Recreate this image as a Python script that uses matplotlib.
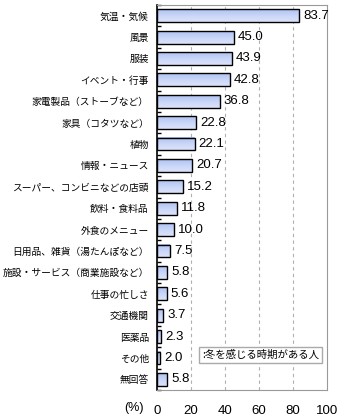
import matplotlib
matplotlib.use("Agg")
import matplotlib.pyplot as plt
import numpy as np
from matplotlib.colors import LinearSegmentedColormap
from matplotlib.patches import Rectangle

categories = [
    "気温・気候", "風景", "服装", "イベント・行事", "家電製品（ストーブなど）",
    "家具（コタツなど）", "植物", "情報・ニュース", "スーパー、コンビニなどの店頭",
    "飲料・食料品", "外食のメニュー", "日用品、雑貨（湯たんぽなど）",
    "施設・サービス（商業施設など）", "仕事の忙しさ", "交通機関", "医薬品",
    "その他", "無回答",
]
values = [83.7, 45.0, 43.9, 42.8, 36.8, 22.8, 22.1, 20.7, 15.2, 11.8, 10.0,
          7.5, 5.8, 5.6, 3.7, 2.3, 2.0, 5.8]
x_ticks = [0, 20, 40, 60, 80, 100]
legend_label = ":冬を感じる時期がある人"

plt.rcParams['font.family'] = ['Noto Sans CJK JP', 'DejaVu Sans']

fig = plt.figure(figsize=(3.4, 4.2), dpi=100)
ax = fig.add_axes([157/340, 1-390/420, 170/340, 385/420])

y = np.arange(len(categories))
rects = ax.barh(y, values, height=0.6, facecolor='none', edgecolor='black',
                linewidth=1.0, zorder=3)

cmap = LinearSegmentedColormap.from_list('g', ['#dbe3fb', '#c9d6f8', '#afc2f2'])
grad = np.linspace(0, 1, 32).reshape(-1, 1)
for r in rects:
    x0, y0, w, h = r.get_x(), r.get_y(), r.get_width(), r.get_height()
    ax.imshow(grad, cmap=cmap, aspect='auto', extent=[x0, x0 + w, y0, y0 + h],
              origin='upper', zorder=2, interpolation='bilinear')

for yi, v in zip(y, values):
    ax.annotate(f"{v:.1f}", xy=(v, yi), xytext=(3, 0), textcoords='offset points',
                ha='left', va='center', fontsize=9.5, family='Liberation Sans',
                color='black', zorder=4)

ax.set_xlim(0, 100)
ax.set_ylim(len(categories) - 0.5, -0.5)
ax.set_yticks(y)
ax.set_yticklabels(categories, fontsize=7)
ax.tick_params(axis='y', which='major', length=0, pad=5.8)
ax.set_yticks(np.arange(-0.5, len(categories), 1), minor=True)
ax.tick_params(axis='y', which='minor', length=3, direction='in', color='black', width=1)

ax.set_xticks(x_ticks)
ax.set_xticklabels([str(t) for t in x_ticks], fontsize=9.5, family='Liberation Sans')
ax.tick_params(axis='x', length=0, pad=11)

for xv in x_ticks[1:-1]:
    ax.axvline(xv, color='#b0b0b0', linestyle=(0, (3, 3)), linewidth=0.8, zorder=1)

for s in ['top', 'right', 'bottom']:
    ax.spines[s].set_color('#999999')
ax.spines['left'].set_color('black')
ax.spines['left'].set_linewidth(1.2)

leg = ax.legend([Rectangle((0, 0), 0, 0, visible=False)], [legend_label],
                handlelength=0, handletextpad=0, loc='lower right',
                bbox_to_anchor=(0.97, 0.07), borderaxespad=0, fancybox=False,
                framealpha=1, edgecolor='#aaaaaa', prop={'size': 7.5},
                borderpad=0.3)
leg.get_frame().set_linewidth(1.0)

fig.text(134/340, 1-408/420, "(%)", ha='center', va='center', fontsize=9,
         family='Liberation Sans')

fig.savefig("out.png", dpi=100)
